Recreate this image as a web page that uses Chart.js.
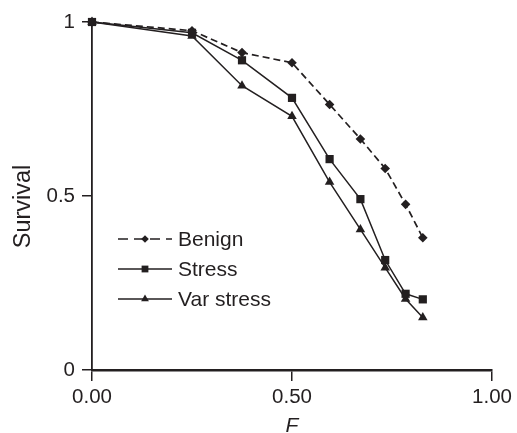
<!DOCTYPE html>
<html>
<head>
<meta charset="utf-8">
<script src="https://cdn.jsdelivr.net/npm/chart.js@4/dist/chart.umd.min.js"></script>
<style>
  html, body { margin: 0; padding: 0; background: #fff; }
  #survival-chart { display: block; }
</style>
</head>
<body>
<canvas id="survival-chart" width="517" height="433"></canvas>
<script>
// Values
var fValues = [0, 0.25, 0.375, 0.5, 0.594, 0.671, 0.733, 0.784, 0.827];
var benignSurvival = [1, 0.975, 0.912, 0.883, 0.763, 0.664, 0.579, 0.476, 0.38];
var stressSurvival = [1, 0.969, 0.89, 0.782, 0.606, 0.491, 0.316, 0.219, 0.203];
var varStressSurvival = [1, 0.96, 0.817, 0.729, 0.54, 0.404, 0.294, 0.204, 0.151];
var seriesLabels = ["Benign", "Stress", "Var stress"];
var xTicks = [0, 0.5, 1];
var xTickLabels = ["0.00", "0.50", "1.00"];
var yTicks = [0, 0.5, 1];
var yTickLabels = ["0", "0.5", "1"];

(function () {
  "use strict";

  var ink = "#231f20";
  var fontFamily = "'Liberation Sans', Arial, Helvetica, sans-serif";

  function toPoints(values) {
    return values.map(function (v, i) {
      return { x: fValues[i], y: v };
    });
  }

  function lineDataset(label, values, style, radius, dash) {
    return {
      label: label,
      data: toPoints(values),
      borderColor: ink,
      backgroundColor: ink,
      borderWidth: dash ? 1.7 : 1.5,
      borderDash: dash || [],
      pointStyle: style,
      pointRadius: radius,
      pointHoverRadius: radius,
      pointBorderWidth: 0,
      pointBackgroundColor: ink,
      tension: 0,
      clip: false,
    };
  }

  // Legend inside the plot (line + marker), plus the rotated y title
  var insideLegend = {
    id: "insideLegend",
    afterDraw: function (chart) {
      var ctx = chart.ctx;
      chart.data.datasets.forEach(function (ds, i) {
        var y = 239 + i * 30;
        ctx.save();
        ctx.strokeStyle = ink;
        ctx.fillStyle = ink;
        ctx.lineWidth = ds.borderWidth;
        ctx.setLineDash(ds.borderDash.length ? [10, 6] : []);
        ctx.beginPath();
        ctx.moveTo(118, y);
        ctx.lineTo(172, y);
        ctx.stroke();
        ctx.setLineDash([]);
        Chart.helpers.drawPoint(
          ctx,
          { pointStyle: ds.pointStyle, radius: ds.pointRadius - 1, borderWidth: 0, rotation: 0 },
          145,
          y
        );
        ctx.font = "21px " + fontFamily;
        ctx.textBaseline = "middle";
        ctx.textAlign = "left";
        ctx.fillText(ds.label, 178, y + 1);
        ctx.restore();
      });

      // y axis title, a little below the axis middle as in the figure
      ctx.save();
      ctx.translate(24, 206.5);
      ctx.rotate(-Math.PI / 2);
      ctx.fillStyle = ink;
      ctx.font = "23.5px " + fontFamily;
      ctx.textAlign = "center";
      ctx.textBaseline = "middle";
      ctx.fillText("Survival", 0, 0);
      ctx.restore();
    },
  };

  var ctx = document.getElementById("survival-chart").getContext("2d");

  new Chart(ctx, {
    type: "line",
    data: {
      datasets: [
        lineDataset(seriesLabels[0], benignSurvival, "rectRot", 4.8, [7, 4]),
        lineDataset(seriesLabels[1], stressSurvival, "rect", 5.8),
        lineDataset(seriesLabels[2], varStressSurvival, "triangle", 5.5),
      ],
    },
    options: {
      responsive: false,
      animation: false,
      events: [],
      layout: { padding: { top: 22, right: 25, bottom: 0, left: 0 } },
      plugins: {
        legend: { display: false },
        tooltip: { enabled: false },
      },
      scales: {
        x: {
          type: "linear",
          min: 0,
          max: 1,
          afterBuildTicks: function (axis) {
            axis.ticks = xTicks.map(function (v) {
              return { value: v };
            });
          },
          afterFit: function (axis) {
            axis.height = 63;
          },
          ticks: {
            color: ink,
            padding: 4,
            maxRotation: 0,
            font: { family: fontFamily, size: 20.5 },
            callback: function (value) {
              return xTickLabels[xTicks.indexOf(value)];
            },
          },
          grid: {
            drawOnChartArea: false,
            drawTicks: true,
            tickLength: 11,
            color: ink,
            lineWidth: 1.5,
          },
          border: { display: true, color: ink, width: 2.5 },
          title: {
            display: true,
            text: "F",
            color: ink,
            padding: { top: -6, bottom: -6 },
            font: { family: fontFamily, size: 21, style: "italic" },
          },
        },
        y: {
          type: "linear",
          min: 0,
          max: 1,
          afterBuildTicks: function (axis) {
            axis.ticks = yTicks.map(function (v) {
              return { value: v };
            });
          },
          afterFit: function (axis) {
            axis.width = 92;
          },
          ticks: {
            color: ink,
            padding: 7,
            font: { family: fontFamily, size: 20.5 },
            callback: function (value) {
              return yTickLabels[yTicks.indexOf(value)];
            },
          },
          grid: {
            drawOnChartArea: false,
            drawTicks: true,
            tickLength: 10,
            color: ink,
            lineWidth: 1.5,
          },
          border: { display: true, color: ink, width: 1.8 },
        },
      },
    },
    plugins: [insideLegend],
  });
})();
</script>
</body>
</html>
